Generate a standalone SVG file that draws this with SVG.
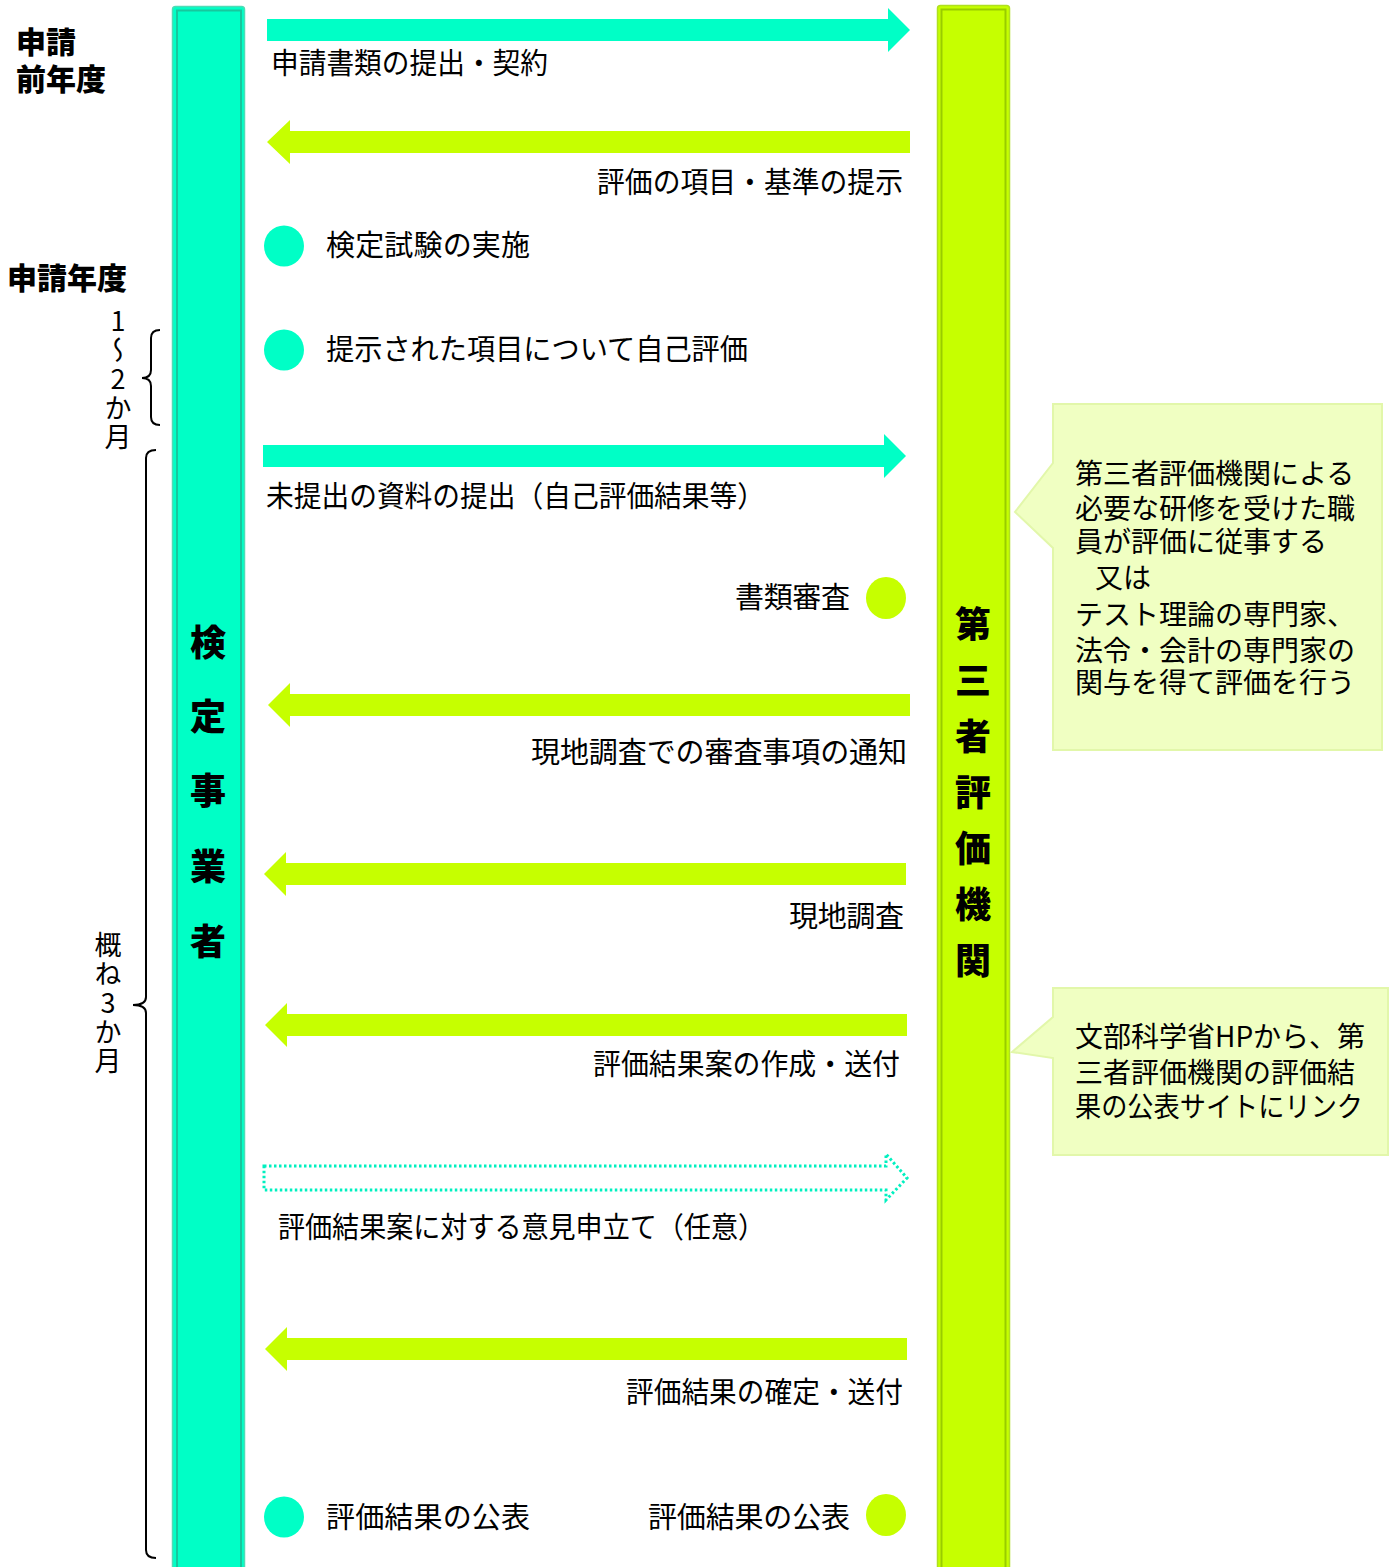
<svg xmlns="http://www.w3.org/2000/svg" width="1389" height="1567" viewBox="0 0 1389 1567">
<style>
text{font-family:"Noto Sans CJK JP","Noto Sans",sans-serif;fill:#000}
.lbl{font-size:29px}
.end{text-anchor:end}
.hd{font-size:30px;font-weight:900}
.bar{font-size:36px;font-weight:900;text-anchor:middle;dominant-baseline:central}
.vt{font-size:27px;writing-mode:vertical-rl;text-orientation:upright;letter-spacing:2px}
.cy{fill:#00ffc6}
.li{fill:#c6ff00}
.call{fill:#f0ffc2;stroke:#e2f7aa;stroke-width:2}
.ct{font-size:28px}
.br{fill:none;stroke:#000;stroke-width:2}
</style>
<rect width="1389" height="1567" fill="#fff"/>
<g id="period-labels">
<text class="hd"><tspan x="16" y="53">申請</tspan><tspan x="16" y="90">前年度</tspan></text>
<text class="hd" x="7" y="289">申請年度</text>
<text class="vt" x="118" y="307">1～2か月</text>
<text class="vt" x="108" y="931">概ね3か月</text>
<path class="br" d="M160,330 Q151,330 151,338 L151,370 Q151,378 142,378 Q151,378 151,386 L151,417 Q151,425 160,425"/>
<path class="br" d="M156,450 Q146,450 146,458 L146,997 Q146,1005 133,1005 Q146,1005 146,1013 L146,1550 Q146,1558 156,1558"/>
</g>
<g id="kentei-jigyosha">
<rect x="172.5" y="6.5" width="72" height="1575" rx="3" fill="#00ffc6" stroke="#4fdcb6" stroke-width="1.5"/>
<rect x="177" y="10.5" width="64" height="1575" fill="none" stroke="#17c79d" stroke-width="2"/>
<text class="bar" x="208" y="640">検</text>
<text class="bar" x="208" y="714">定</text>
<text class="bar" x="208" y="788">事</text>
<text class="bar" x="208" y="864">業</text>
<text class="bar" x="208" y="939">者</text>
</g>
<g id="daisansha-hyoka-kikan">
<rect x="937.5" y="5.5" width="72" height="1575" rx="3" fill="#c6ff00" stroke="#b0e020" stroke-width="1.5"/>
<rect x="941.5" y="9.5" width="64" height="1575" fill="none" stroke="#99cc00" stroke-width="2"/>
<text class="bar" x="973" y="622">第</text>
<text class="bar" x="973" y="678">三</text>
<text class="bar" x="973" y="734">者</text>
<text class="bar" x="973" y="790">評</text>
<text class="bar" x="973" y="846">価</text>
<text class="bar" x="973" y="902">機</text>
<text class="bar" x="973" y="958">関</text>
</g>
<g id="connectors">
<polygon class="cy" points="267,19 888,19 888,8 910,30 888,52 888,41 267,41"/>
<polygon class="li" points="910,131 290,131 290,120 267,142 290,164 290,153 910,153"/>
<polygon class="cy" points="263,445 884,445 884,434 906,456 884,478 884,467 263,467"/>
<polygon class="li" points="910,694 290,694 290,683 268,705 290,727 290,716 910,716"/>
<polygon class="li" points="906,863 286,863 286,852 264,874 286,896 286,885 906,885"/>
<polygon class="li" points="907,1014 287,1014 287,1003 265,1025 287,1047 287,1036 907,1036"/>
<polygon points="264,1166 886,1166 886,1154 907,1178 886,1200 886,1190 264,1190" fill="none" stroke="#00f0c0" stroke-width="3" stroke-dasharray="2.5 2.5"/>
<polygon class="li" points="907,1338 287,1338 287,1327 265,1349 287,1371 287,1360 907,1360"/>
</g>
<g id="steps">
<text class="lbl" x="271" y="74" textLength="277" lengthAdjust="spacingAndGlyphs">申請書類の提出・契約</text>
<text class="lbl end" x="903" y="193" textLength="306" lengthAdjust="spacingAndGlyphs">評価の項目・基準の提示</text>
<ellipse class="cy" cx="284" cy="246" rx="20" ry="20.5"/>
<text class="lbl" x="326" y="256" textLength="204">検定試験の実施</text>
<ellipse class="cy" cx="284" cy="350" rx="20" ry="20.5"/>
<text class="lbl" x="326" y="360" textLength="422" lengthAdjust="spacingAndGlyphs">提示された項目について自己評価</text>
<text class="lbl" x="266" y="507" textLength="499" lengthAdjust="spacingAndGlyphs">未提出の資料の提出（自己評価結果等）</text>
<text class="lbl end" x="850" y="608" textLength="115">書類審査</text>
<ellipse class="li" cx="886" cy="598" rx="20" ry="21"/>
<text class="lbl end" x="907" y="763" textLength="376">現地調査での審査事項の通知</text>
<text class="lbl end" x="904" y="927" textLength="115">現地調査</text>
<text class="lbl end" x="900" y="1075" textLength="307" lengthAdjust="spacingAndGlyphs">評価結果案の作成・送付</text>
<text class="lbl" x="278" y="1238" textLength="487" lengthAdjust="spacingAndGlyphs">評価結果案に対する意見申立て（任意）</text>
<text class="lbl end" x="903" y="1403" textLength="277" lengthAdjust="spacingAndGlyphs">評価結果の確定・送付</text>
<ellipse class="cy" cx="284" cy="1517" rx="20" ry="20.5"/>
<text class="lbl" x="326" y="1528" textLength="204">評価結果の公表</text>
<text class="lbl end" x="850" y="1528" textLength="202">評価結果の公表</text>
<ellipse class="li" cx="886" cy="1515" rx="20" ry="21"/>
</g>
<g id="note-1">
<path class="call" d="M1053,404 L1382,404 L1382,750 L1053,750 L1053,548 L1015,512 L1053,463 Z"/>
<text class="ct"><tspan x="1075" y="484">第三者評価機関による</tspan><tspan x="1075" y="519">必要な研修を受けた職</tspan><tspan x="1075" y="552">員が評価に従事する</tspan><tspan x="1095" y="588">又は</tspan><tspan x="1075" y="625">テスト理論の専門家、</tspan><tspan x="1075" y="661">法令・会計の専門家の</tspan><tspan x="1075" y="693">関与を得て評価を行う</tspan></text>
</g>
<g id="note-2">
<path class="call" d="M1053,988 L1388,988 L1388,1155 L1053,1155 L1053,1058 L1012,1052 L1053,1017 Z"/>
<text class="ct"><tspan x="1075" y="1047">文部科学省HPから、第</tspan><tspan x="1075" y="1083">三者評価機関の評価結</tspan><tspan x="1075" y="1117" textLength="288" lengthAdjust="spacingAndGlyphs">果の公表サイトにリンク</tspan></text>
</g>
</svg>
